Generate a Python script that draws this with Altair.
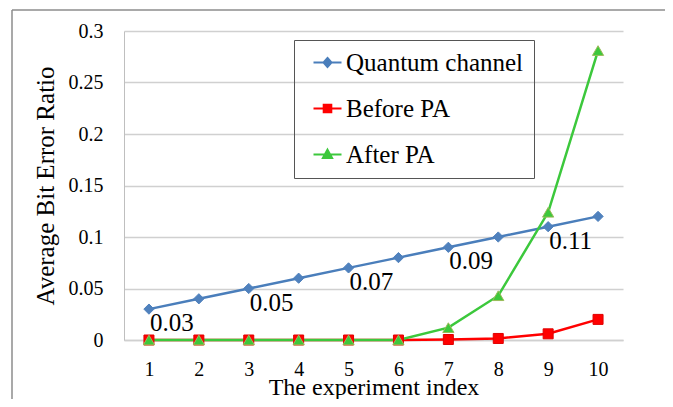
import altair as alt
import pandas as pd

# ---- data ----
experiment_index = [1, 2, 3, 4, 5, 6, 7, 8, 9, 10]
quantum_channel = [0.03, 0.04, 0.05, 0.06, 0.07, 0.08, 0.09, 0.10, 0.11, 0.12]
before_pa = [0, 0, 0, 0, 0, 0, 0.0005, 0.0015, 0.006, 0.02]
after_pa = [0, 0, 0, 0, 0, 0, 0.012, 0.043, 0.124, 0.281]
series_names = ["Quantum channel", "Before PA", "After PA"]
labelled_points = [1, 3, 5, 7, 9]
y_ticks = [0, 0.05, 0.1, 0.15, 0.2, 0.25, 0.3]

# ---- styles ----
series_colors = ["#4A7EBB", "#FF0000", "#3CC83C"]
marker_fills = ["#4F81BD", "#FF0000", "#3CC83C"]
marker_strokes = ["#4F81BD", "#E00000", "#9BBB59"]
marker_shapes = ["diamond", "square", "triangle-up"]
marker_sizes = [105, 100, 125]
legend_paths = [
    "M-0.3,0H2.5M1.1,-0.45L1.5,0L1.1,0.45L0.7,0Z",
    "M-0.3,0H2.5M0.72,-0.38H1.48V0.38H0.72Z",
    "M-0.3,0H2.5M1.1,-0.48L1.56,0.36H0.64Z",
]
FONT = "Liberation Serif"

rows = []
for name, vals in zip(series_names, [quantum_channel, before_pa, after_pa]):
    for i, v in zip(experiment_index, vals):
        rows.append({
            "idx": i,
            "value": v,
            "series": name,
            "label": f"{v:.2f}" if (name == "Quantum channel" and i in labelled_points) else "",
        })
df = pd.DataFrame(rows)

x_enc = alt.X(
    "idx:O",
    scale=alt.Scale(type="point", padding=0.5),
    axis=alt.Axis(
        title="The experiment index", labelAngle=0, grid=False, ticks=False,
        domainColor="#D0D0D0", domainWidth=1.5,
        labelFont=FONT, labelFontSize=20, labelColor="#000", labelPadding=19,
        titleFont=FONT, titleFontSize=24, titleFontWeight="normal", titleColor="#000",
        titlePadding=-4,
    ),
)
y_enc = alt.Y(
    "value:Q",
    scale=alt.Scale(domain=[0, 0.3], nice=False),
    axis=alt.Axis(
        title="Average Bit Error Ratio", values=y_ticks, format="~g",
        grid=True, gridColor="#D0D0D0", gridWidth=1.5, ticks=False,
        domainColor="#BFBFBF", domainWidth=1,
        labelFont=FONT, labelFontSize=20, labelColor="#000", labelPadding=21,
        titleFont=FONT, titleFontSize=25, titleFontWeight="normal", titleColor="#000",
        titlePadding=10,
    ),
)

legend = alt.Legend(
    title=None, orient="none", legendX=170, legendY=9,
    padding=10, strokeColor="#555555",
    symbolSize=400, symbolStrokeWidth=2, symbolOpacity=1,
    labelOffset=17, rowPadding=20, labelLimit=400,
    labelFont=FONT, labelFontSize=25, labelColor="#000",
    labelExpr="datum.label + '\u00a0\u00a0\u00a0\u00a0\u00a0\u00a0\u00a0\u00a0'",
)
color_scale = alt.Scale(domain=series_names, range=series_colors)

base = alt.Chart(df)

lines = base.mark_line(strokeWidth=2.5).encode(
    x=x_enc,
    y=y_enc,
    stroke=alt.Stroke("series:N", scale=color_scale, legend=legend),
    detail="series:N",
)

# legend-only layer (no marks drawn: all rows filtered out)
legend_layer = base.transform_filter("false").mark_point(filled=True, strokeWidth=2).encode(
    x=x_enc,
    y=y_enc,
    stroke=alt.Stroke("series:N", scale=color_scale, legend=legend),
    fill=alt.Fill("series:N", scale=alt.Scale(domain=series_names, range=series_colors), legend=legend),
    shape=alt.Shape("series:N", scale=alt.Scale(domain=series_names, range=legend_paths), legend=legend),
)

point_layers = []
for name, shp, fc, sc, sz in zip(series_names, marker_shapes, marker_fills, marker_strokes, marker_sizes):
    point_layers.append(
        base.transform_filter(alt.datum.series == name).mark_point(
            filled=True, shape=shp, fill=fc, stroke=sc, strokeWidth=1, size=sz, opacity=1
        ).encode(x=x_enc, y=y_enc)
    )

labels = base.transform_filter(alt.datum.label != "").mark_text(
    align="left", baseline="alphabetic", dx=1, dy=22, font=FONT, fontSize=25, color="#000"
).encode(x=x_enc, y=y_enc, text="label:N")

frame_df = pd.DataFrame({"k": [0]})
frame_top = alt.Chart(frame_df).mark_rule(color="#8C8C8C", strokeWidth=1.5).encode(
    x=alt.value(-112), x2=alt.value(560), y=alt.value(-21)
)
frame_left = alt.Chart(frame_df).mark_rule(color="#8C8C8C", strokeWidth=1.5).encode(
    x=alt.value(-112), y=alt.value(-21), y2=alt.value(380)
)

chart = alt.layer(frame_top, frame_left, lines, legend_layer, *point_layers, labels).properties(
    width=499, height=309,
    autosize=alt.AutoSizeParams(type="none"),
    padding={"left": 116, "top": 23, "right": 42, "bottom": 59},
).configure(
    background="white", font=FONT
).configure_view(stroke=None).configure_text(font=FONT).configure_legend(labelFont=FONT)

chart.save("out.html", embed_options={"renderer": "svg", "actions": False})
